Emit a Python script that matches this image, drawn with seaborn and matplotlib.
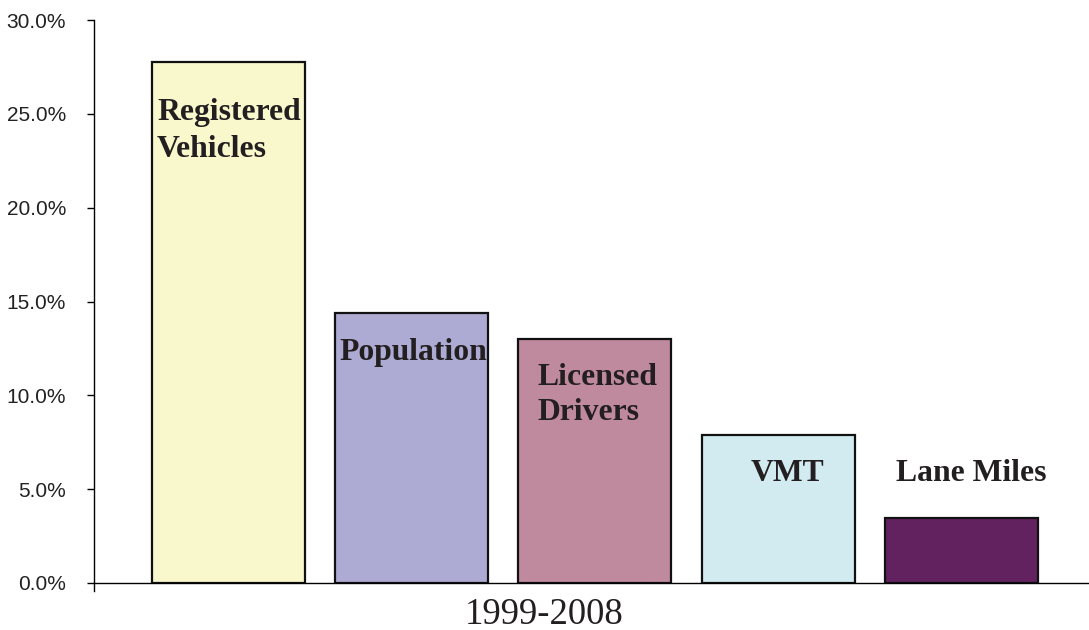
import matplotlib
matplotlib.use("Agg")
import matplotlib.pyplot as plt
import matplotlib.transforms as mtransforms
from matplotlib.ticker import FuncFormatter, MultipleLocator
import seaborn as sns
import pandas as pd

# ---- data ----
categories = ["Registered Vehicles", "Population", "Licensed Drivers", "VMT", "Lane Miles"]
growth_pct = [27.75, 14.4, 13.0, 7.9, 3.45]
bar_colors = ["#F9F7CC", "#ADABD3", "#C08A9E", "#D2EBF1", "#62215F"]
x_label = "1999-2008"

sns.set_theme(style="white")
plt.rcParams["font.family"] = ["Liberation Sans", "DejaVu Sans"]

fig = plt.figure(figsize=(10.89, 6.30), dpi=100)
ax = fig.add_axes([94 / 1089, 1 - 583 / 630, 1 - 94 / 1089, (583 - 20) / 630])

df = pd.DataFrame({"cat": categories, "val": growth_pct})
sns.barplot(data=df, x="cat", y="val", hue="cat", palette=bar_colors,
            legend=False, width=0.835, edgecolor="#111111", linewidth=1.6,
            ax=ax, saturation=1)

ax.set_ylim(0, 30)
ax.set_xlim(-0.734, 4.696)
ax.yaxis.set_major_locator(MultipleLocator(5))
ax.yaxis.set_major_formatter(FuncFormatter(lambda v, p: f"{v:.1f}%"))
ax.tick_params(axis="y", which="major", left=True, length=5, width=1,
               color="black", labelsize=15, labelcolor="#222222", pad=15)
ax.set_xticks([])
ax.set_xlabel("")
ax.set_ylabel("")

for s in ["top", "right"]:
    ax.spines[s].set_visible(False)
ax.spines["left"].set_color("black")
ax.spines["bottom"].set_color("black")
ax.spines["left"].set_linewidth(1)
ax.spines["bottom"].set_linewidth(1)
ax.spines["left"].set_bounds(-0.4, 30)

# bar labels (positions in data coordinates)
label_lines = [
    (-0.39, 24.67, "Registered"),
    (-0.39, 22.70, "Vehicles"),
    (0.608, 11.88, "Population"),
    (1.684, 10.55, "Licensed"),
    (1.684, 8.68, "Drivers"),
    (2.851, 5.43, "VMT"),
    (3.644, 5.43, "Lane Miles"),
]
for x, y, t in label_lines:
    ax.text(x, y, t, ha="left", va="baseline", fontsize=22.8, fontweight="bold",
            family=["Liberation Serif", "DejaVu Serif"], color="#231F20")

trans = mtransforms.blended_transform_factory(ax.transData, ax.transAxes)
ax.text(1.72, -0.073, x_label, transform=trans, ha="center", va="baseline",
        fontsize=26.5, family=["Liberation Serif", "DejaVu Serif"], color="#231F20",
        clip_on=False)

fig.savefig("out.png", dpi=100)
